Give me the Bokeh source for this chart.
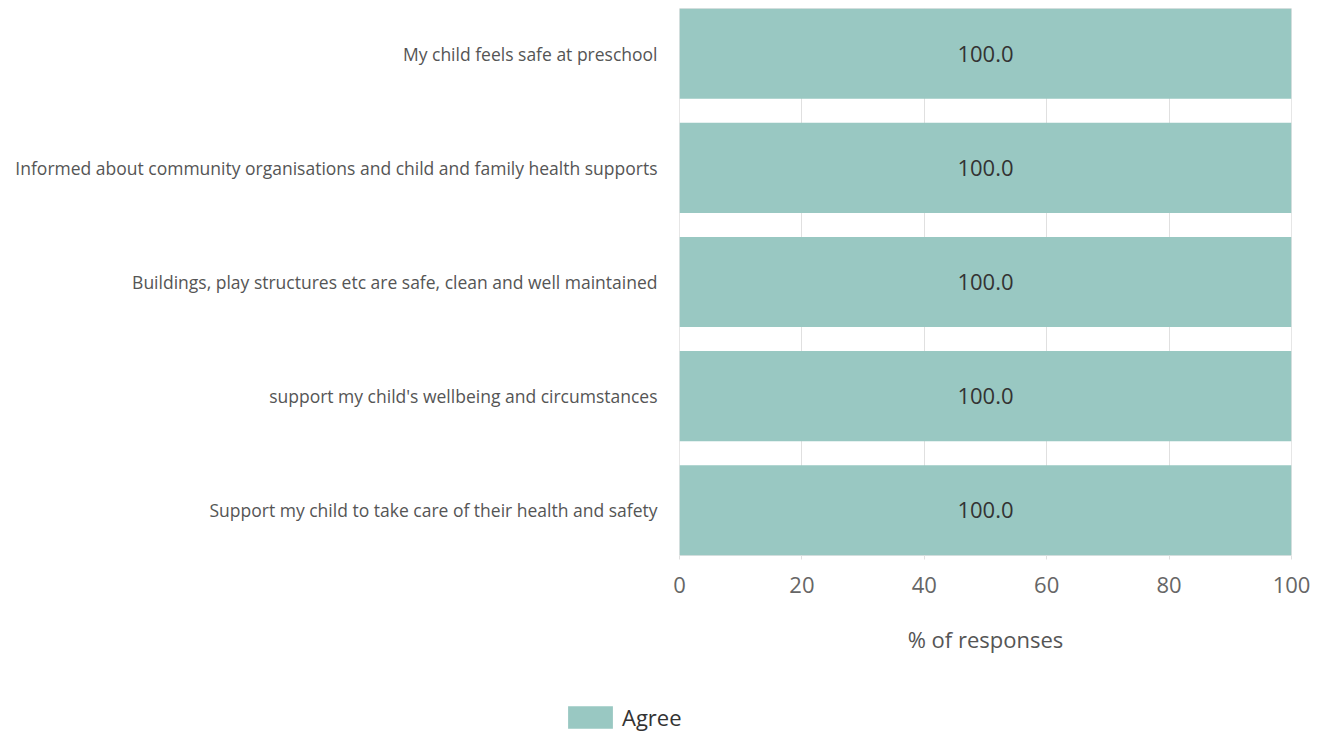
from bokeh.plotting import figure
from bokeh.layouts import column, row
from bokeh.models import Range1d, FixedTicker, ColumnDataSource, Legend, LegendItem, Spacer
from bokeh.core.properties import value
from bokeh.embed import file_html
from bokeh.resources import INLINE

categories = [
    "My child feels safe at preschool",
    "Informed about community organisations and child and family health supports",
    "Buildings, play structures etc are safe, clean and well maintained",
    "support my child's wellbeing and circumstances",
    "Support my child to take care of their health and safety",
]
agree = [100.0, 100.0, 100.0, 100.0, 100.0]
series_name = "Agree"
x_ticks = [0, 20, 40, 60, 80, 100]
x_title = "% of responses"

BAR_COLOR = "#99c8c2"
BAR_H = 0.79
n = len(categories)
positions = [n - 1 - i for i in range(n)]

src = ColumnDataSource(dict(
    y=positions,
    v=agree,
    mid=[a / 2 for a in agree],
    lbl=[f"{a:.1f}" for a in agree],
))

p = figure(width=1319, height=680, output_backend="svg", toolbar_location=None,
           x_range=Range1d(0, 100), y_range=Range1d(-BAR_H / 2, n - 1 + BAR_H / 2),
           min_border=0, min_border_left=679, min_border_right=28,
           min_border_top=8, min_border_bottom=125)

bars = p.hbar(y="y", right="v", left=0, height=BAR_H, source=src,
              fill_color=BAR_COLOR, line_color=None)
p.text(x="mid", y="y", text="lbl", source=src, text_align="center",
       text_baseline="middle", text_font=value("Open Sans"),
       text_font_size="22px", text_color="#333333")

p.outline_line_color = "#e6e6e6"
p.ygrid.grid_line_color = None
p.xgrid.ticker = FixedTicker(ticks=x_ticks)
p.xgrid.grid_line_color = "#e0e0e0"

xa = p.xaxis[0]
xa.ticker = FixedTicker(ticks=x_ticks)
xa.axis_line_color = None
xa.major_tick_line_color = "#e0e0e0"
xa.major_tick_out = 4
xa.major_tick_in = 0
xa.minor_tick_line_color = None
xa.major_label_text_font = "Open Sans"
xa.major_label_text_font_size = "22px"
xa.major_label_text_color = "#666666"
xa.major_label_standoff = 17
xa.axis_label = x_title
xa.axis_label_text_font = "Open Sans"
xa.axis_label_text_font_style = "normal"
xa.axis_label_text_font_size = "22px"
xa.axis_label_text_color = "#555555"
xa.axis_label_standoff = 28

ya = p.yaxis[0]
ya.ticker = FixedTicker(ticks=positions)
ya.major_label_overrides = {pos: cat for pos, cat in zip(positions, categories)}
ya.axis_line_color = None
ya.major_tick_line_color = None
ya.minor_tick_line_color = None
ya.major_label_text_font = "Open Sans"
ya.major_label_text_font_size = "17.5px"
ya.major_label_text_color = "#555555"
ya.major_label_standoff = 16

# legend strip below the chart (its bars lie outside its visible range)
lg = figure(width=757, height=51, output_backend="svg", toolbar_location=None,
            x_range=Range1d(0, 100), y_range=Range1d(n + 10, n + 11),
            x_axis_location=None, y_axis_location=None,
            min_border=0, min_border_top=22)
lg.outline_line_color = None
lg.grid.grid_line_color = None
swatch = lg.hbar(y="y", right="v", left=0, height=BAR_H, source=src,
                 fill_color=BAR_COLOR, line_color=None)
legend = Legend(items=[LegendItem(label=series_name, renderers=[swatch])],
                location="top_left", orientation="horizontal",
                glyph_width=56, glyph_height=28, label_standoff=4,
                label_text_font="Open Sans", label_text_font_size="22px",
                label_text_color="#333333", label_height=28,
                padding=0, margin=0, border_line_color=None,
                background_fill_alpha=0)
lg.add_layout(legend, "center")

layout = column(p, row(Spacer(width=562, height=51), lg, spacing=0), spacing=0)
open("out.html", "w").write(file_html(layout, INLINE))
